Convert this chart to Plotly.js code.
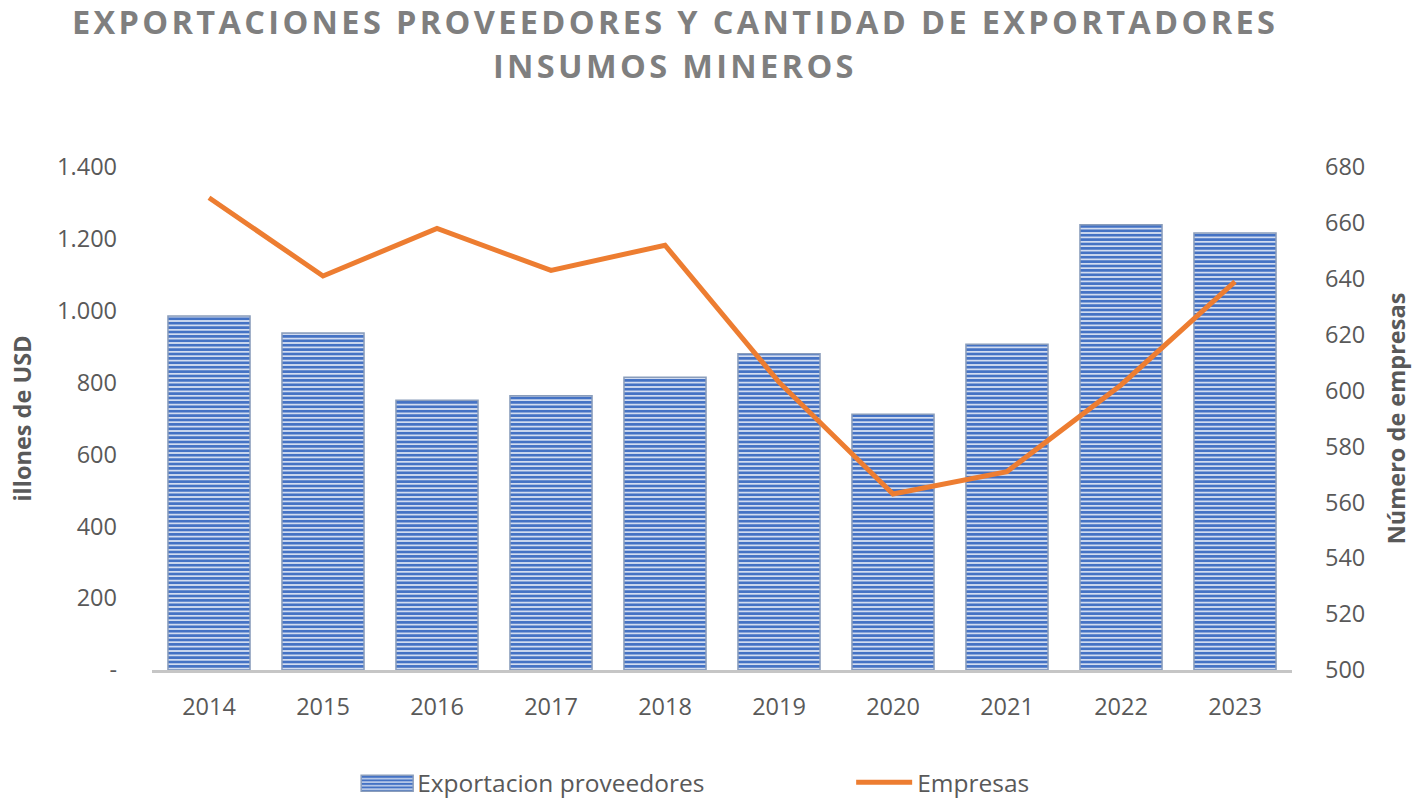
<!DOCTYPE html>
<html>
<head>
<meta charset="utf-8">
<script src="https://cdn.plot.ly/plotly-3.0.1.min.js"></script>
<style>
html,body{margin:0;padding:0;background:#fff;}
#chart{width:1417px;height:799px;}
.infolayer .annotation text{letter-spacing:3.35px;}
</style>
</head>
<body>
<div id="chart"></div>
<script>
const years = ['2014','2015','2016','2017','2018','2019','2020','2021','2022','2023'];
const exportaciones = [985, 938, 751, 763, 815, 880, 712, 907, 1239, 1216];
const empresas = [669, 641, 658, 643, 652, 603, 563, 571, 602, 639];
const leftTickVals = [0, 200, 400, 600, 800, 1000, 1200, 1400];
const leftTickText = ['-', '200', '400', '600', '800', '1.000', '1.200', '1.400'];
const titleLines = ['EXPORTACIONES PROVEEDORES Y CANTIDAD DE EXPORTADORES', 'INSUMOS MINEROS'];

const FONT = 'Open Sans, Noto Sans, sans-serif';
const GREY = '#595959';
const FS = 23.5;

const traces = [
  {
    type: 'bar',
    name: 'Exportacion proveedores',
    x: years,
    y: exportaciones,
    marker: {
      color: '#d9e2f3',
      line: {color: '#8a9dbb', width: 1.5},
      pattern: {shape: '-', fgcolor: '#4472C4', bgcolor: '#d9e2f3', size: 4.4, solidity: 0.62, fillmode: 'replace'}
    },
    hoverinfo: 'x+y'
  },
  {
    type: 'scatter',
    mode: 'lines',
    name: 'Empresas',
    x: years,
    y: empresas,
    yaxis: 'y2',
    line: {color: '#ED7D31', width: 5}
  }
];

const titleFont = {family: FONT, size: 32.5, color: '#7f7f7f', weight: 'bold'};

const layout = {
  width: 1417,
  height: 799,
  paper_bgcolor: '#ffffff',
  plot_bgcolor: '#ffffff',
  margin: {l: 152, r: 125, t: 167, b: 129},
  font: {family: FONT, color: GREY, size: FS},
  annotations: [
    {text: titleLines[0], xref: 'paper', yref: 'paper', x: 0.459, xanchor: 'center',
     y: 1.290, yanchor: 'middle', showarrow: false, font: titleFont},
    {text: titleLines[1], xref: 'paper', yref: 'paper', x: 0.459, xanchor: 'center',
     y: 1.201, yanchor: 'middle', showarrow: false, font: titleFont}
  ],
  bargap: 0.28,
  showlegend: true,
  legend: {
    orientation: 'h',
    x: 0.1747, xref: 'paper', xanchor: 'left',
    y: 0.021, yref: 'container', yanchor: 'middle',
    font: {family: FONT, size: 24.5, color: GREY},
    itemwidth: 56,
    entrywidth: 429,
    traceorder: 'normal'
  },
  xaxis: {
    type: 'category',
    showgrid: false,
    showline: true,
    linecolor: '#c6c6c6',
    linewidth: 3,
    ticks: '',
    ticklabelstandoff: 14,
    tickfont: {family: FONT, size: FS, color: GREY},
    fixedrange: true
  },
  yaxis: {
    range: [0, 1400],
    tickvals: leftTickVals,
    ticktext: leftTickText,
    showgrid: false,
    zeroline: false,
    showline: false,
    ticks: '',
    ticklabelstandoff: 34,
    tickfont: {family: FONT, size: FS, color: GREY},
    title: {text: 'illones de USD', font: {family: FONT, size: FS, color: GREY, weight: 'bold'}, standoff: 18}
  },
  yaxis2: {
    overlaying: 'y',
    side: 'right',
    range: [500, 680],
    dtick: 20,
    tick0: 500,
    showgrid: false,
    zeroline: false,
    showline: false,
    ticks: '',
    ticklabelstandoff: 32,
    tickfont: {family: FONT, size: FS, color: GREY},
    title: {text: 'Número de empresas', font: {family: FONT, size: FS, color: GREY, weight: 'bold'}, standoff: 24}
  }
};

Plotly.newPlot('chart', traces, layout, {displayModeBar: false, staticPlot: true}).then(function (gd) {
  // Widen the legend symbols to look like the reference swatches
  const groups = gd.querySelectorAll('.legend .traces');
  groups.forEach(function (g, i) {
    const text = g.querySelector('text.legendtext');
    if (!text) return;
    const tr = text.getBoundingClientRect();
    const yc = tr.top + tr.height / 2 + 1;
    const x0s = tr.left - 56, x1s = tr.left - 4;
    if (i === 0) {
      g.querySelectorAll('.legendpoints path').forEach(function (p) {
        const m = p.getScreenCTM();
        const x0 = x0s - m.e, x1 = x1s - m.e, y = yc - m.f;
        p.setAttribute('d', 'M' + x0 + ',' + (y - 8) + 'H' + x1 + 'V' + (y + 8) + 'H' + x0 + 'Z');
      });
    } else {
      g.querySelectorAll('.legendpoints path.js-line').forEach(function (p) {
        const m = p.getScreenCTM();
        const x0 = x0s - m.e, x1 = x1s - m.e, y = yc - m.f;
        p.setAttribute('d', 'M' + x0 + ',' + y + 'H' + x1);
        p.style.strokeLinecap = 'round';
      });
    }
  });
});
</script>
</body>
</html>
